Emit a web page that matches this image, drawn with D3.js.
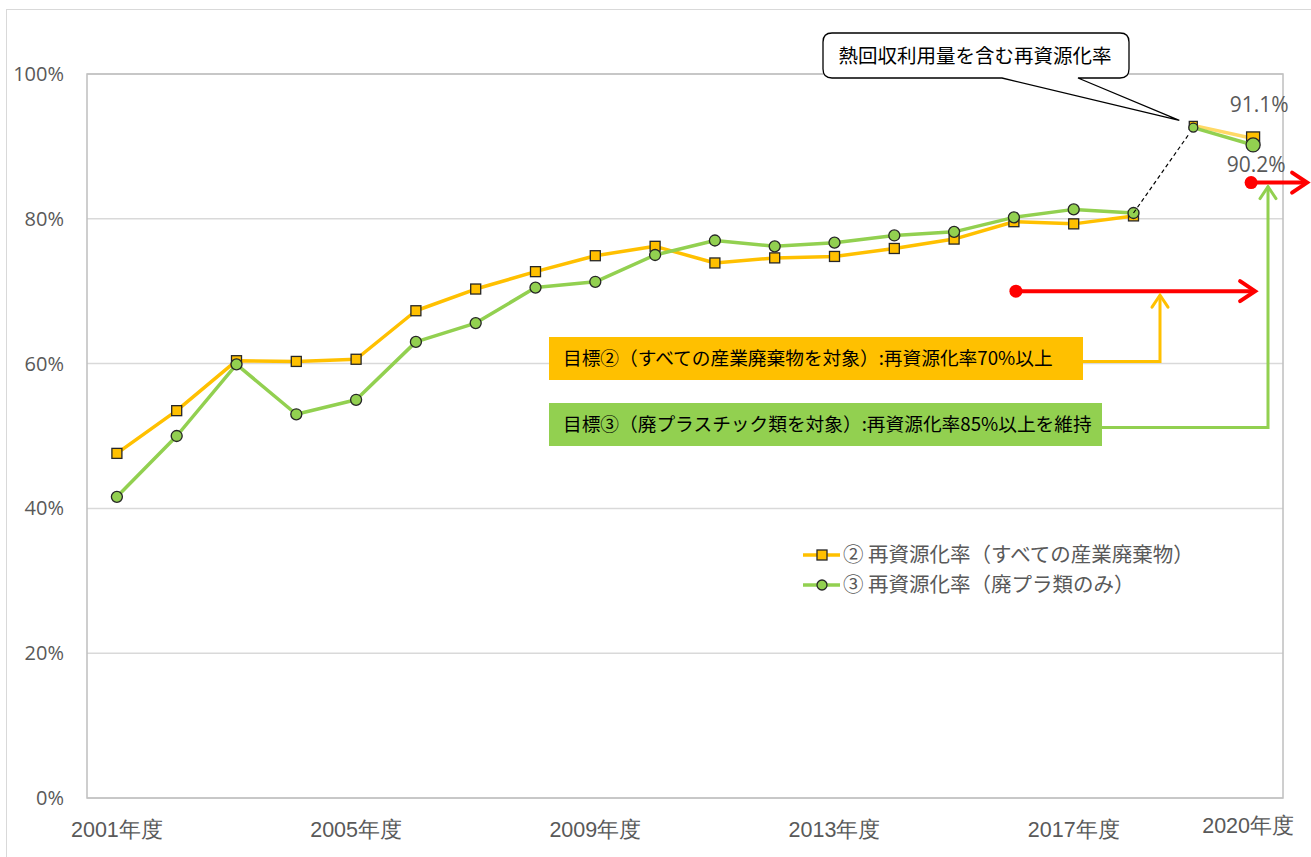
<!DOCTYPE html>
<html>
<head>
<meta charset="utf-8">
<script src="https://cdn.jsdelivr.net/npm/d3@7"></script>
<style>
  body { margin: 0; background: #fff; }
  svg { display: block; font-family: "Noto Sans CJK JP", "Noto Sans", sans-serif; }
</style>
</head>
<body>
<svg id="svg" width="1311" height="857"></svg>
<script>
const width = 1311;
const height = 857;
const textColor = '#595959';
const yellow = '#FFC000';
const green = '#92D050';

const years = [2001, 2002, 2003, 2004, 2005, 2006, 2007, 2008, 2009, 2010,
               2011, 2012, 2013, 2014, 2015, 2016, 2017, 2018, 2019, 2020];
const allWaste = [47.6, 53.5, 60.4, 60.3, 60.6, 67.3, 70.3, 72.7, 74.9, 76.2,
                  73.9, 74.6, 74.8, 75.9, 77.2, 79.6, 79.3, 80.4, 92.9, 91.1];
const plasticWaste = [41.6, 50.0, 59.9, 53.0, 55.0, 63.0, 65.6, 70.5, 71.3, 75.0,
                      77.0, 76.2, 76.7, 77.7, 78.2, 80.2, 81.3, 80.8, 92.6, 90.2];
const xTickYears = [2001, 2005, 2009, 2013, 2017, 2020];
const yTicks = [0, 20, 40, 60, 80, 100];
const seriesNames = ['② 再資源化率（すべての産業廃棄物）', '③ 再資源化率（廃プラ類のみ）'];
const target2 = 70;
const target3 = 85;

const plot = { left: 87, top: 74, right: 1283, bottom: 798 };

const svg = d3.select('#svg');

const xScale = d3.scaleBand().domain(years).range([plot.left, plot.right]);
const xc = d => xScale(d) + xScale.bandwidth() / 2;
const yScale = d3.scaleLinear().domain([0, 100]).range([plot.bottom, plot.top]);

// outer chart border
svg.append('rect')
  .attr('x', 6.5).attr('y', 9.5)
  .attr('width', width).attr('height', height)
  .attr('fill', 'none').attr('stroke', '#D9D9D9');

// grid
svg.append('g').selectAll('line')
  .data(yTicks)
  .enter().append('line')
  .attr('x1', plot.left).attr('x2', plot.right)
  .attr('y1', d => yScale(d)).attr('y2', d => yScale(d))
  .attr('stroke', '#D9D9D9').attr('stroke-width', 1.5);

svg.append('rect')
  .attr('x', plot.left).attr('y', plot.top)
  .attr('width', plot.right - plot.left).attr('height', plot.bottom - plot.top)
  .attr('fill', 'none').attr('stroke', '#BFBFBF').attr('stroke-width', 1.5);

// axes
const yAxis = d3.axisLeft(yScale).tickValues(yTicks).tickSize(0).tickPadding(0)
  .tickFormat(d => d + '%');
const yg = svg.append('g').attr('transform', 'translate(64,0)').call(yAxis);
yg.select('.domain').remove();
yg.selectAll('text').attr('fill', textColor).style('font-size', '20px')
  .style('font-family', '"Open Sans", "Noto Sans", sans-serif');

const xAxis = d3.axisBottom(xScale).tickValues(xTickYears).tickSize(0).tickPadding(0)
  .tickFormat(d => d + '年度');
const xg = svg.append('g').attr('transform', 'translate(0,' + (plot.bottom + 24) + ')').call(xAxis);
xg.select('.domain').remove();
xg.selectAll('text').attr('fill', textColor).style('font-size', '21.5px');
xg.selectAll('.tick').filter(d => d === 2020)
  .attr('transform', 'translate(' + (xc(2020) - 5) + ',-4)');

// series
const ptsA = years.map((y, i) => [xc(y), yScale(allWaste[i])]);
const ptsB = years.map((y, i) => [xc(y), yScale(plasticWaste[i])]);
const line = d3.line();

function drawSeries(pts, color, lastColor, shape) {
  svg.append('path')
    .attr('d', line(pts.slice(0, 18)))
    .attr('fill', 'none').attr('stroke', color).attr('stroke-width', 3.5)
    .attr('stroke-linejoin', 'round');
  svg.append('path')
    .attr('d', line(pts.slice(18)))
    .attr('fill', 'none').attr('stroke', lastColor).attr('stroke-width', 3.5);
  const sizes = pts.map((p, i) => i === 19 ? 13 : (i === 18 ? 8 : 10));
  if (shape === 'square') {
    svg.append('g').selectAll('rect')
      .data(pts)
      .enter().append('rect')
      .attr('x', (d, i) => d[0] - sizes[i] / 2)
      .attr('y', (d, i) => d[1] - sizes[i] / 2)
      .attr('width', (d, i) => sizes[i]).attr('height', (d, i) => sizes[i])
      .attr('fill', color).attr('stroke', '#262626').attr('stroke-width', 1.3);
  } else {
    svg.append('g').selectAll('circle')
      .data(pts)
      .enter().append('circle')
      .attr('cx', d => d[0]).attr('cy', d => d[1])
      .attr('r', (d, i) => sizes[i] / 2 + 0.5)
      .attr('fill', color).attr('stroke', '#262626').attr('stroke-width', 1.3);
  }
}

drawSeries(ptsA, yellow, '#FFD966', 'square');
drawSeries(ptsB, green, green, 'circle');

// dashed link 2018 -> 2019
svg.append('line')
  .attr('x1', ptsB[17][0]).attr('y1', ptsB[17][1])
  .attr('x2', ptsB[18][0] - 4).attr('y2', ptsB[18][1] + 6)
  .attr('stroke', '#000').attr('stroke-width', 1.2).attr('stroke-dasharray', '4,3');

// data labels 2020
svg.append('text')
  .attr('x', xc(2020) + 6).attr('y', yScale(allWaste[19]) - 26)
  .attr('text-anchor', 'middle').attr('fill', textColor).style('font-size', '21px')
  .style('font-family', '"Open Sans", "Noto Sans", sans-serif')
  .text(allWaste[19].toFixed(1) + '%');
svg.append('text')
  .attr('x', xc(2020) + 3).attr('y', yScale(plasticWaste[19]) + 27)
  .attr('text-anchor', 'middle').attr('fill', textColor).style('font-size', '21px')
  .style('font-family', '"Open Sans", "Noto Sans", sans-serif')
  .text(plasticWaste[19].toFixed(1) + '%');

// callout
const cb = { x0: 823, y0: 33, x1: 1129, y1: 78, r: 9 };
const tip = [ptsA[18][0] - 14, ptsA[18][1] - 5];
svg.append('path')
  .attr('d', `M${cb.x0 + cb.r},${cb.y0} H${cb.x1 - cb.r} Q${cb.x1},${cb.y0} ${cb.x1},${cb.y0 + cb.r}
    V${cb.y1 - cb.r} Q${cb.x1},${cb.y1} ${cb.x1 - cb.r},${cb.y1} H1078 L${tip[0]},${tip[1]} L1002,${cb.y1}
    H${cb.x0 + cb.r} Q${cb.x0},${cb.y1} ${cb.x0},${cb.y1 - cb.r} V${cb.y0 + cb.r} Q${cb.x0},${cb.y0} ${cb.x0 + cb.r},${cb.y0} Z`)
  .attr('fill', '#fff').attr('stroke', '#000').attr('stroke-width', 1.3);
svg.append('text')
  .attr('x', 975).attr('y', 63).attr('text-anchor', 'middle')
  .attr('fill', '#000').style('font-size', '19.5px')
  .text('熱回収利用量を含む再資源化率');

// target arrows (red)
function arrowHead(g, x, y, dir, color, w, len, spread) {
  let pts;
  if (dir === 'right') pts = [[x - len, y - spread], [x, y], [x - len, y + spread]];
  else pts = [[x - spread, y + len], [x, y], [x + spread, y + len]];
  g.append('path').attr('d', d3.line()(pts))
    .attr('fill', 'none').attr('stroke', color).attr('stroke-width', w)
    .attr('stroke-linecap', 'round').attr('stroke-linejoin', 'miter');
}

const red = svg.append('g');
const redRows = [
  { x1: xc(2016) + 2, x2: xc(2020) + 2, v: target2 },
  { x1: xc(2020) - 2, x2: xc(2020) + 54, v: target3 }
];
redRows.forEach(r => {
  red.append('line')
    .attr('x1', r.x1).attr('x2', r.x2 - 2)
    .attr('y1', yScale(r.v)).attr('y2', yScale(r.v))
    .attr('stroke', '#FF0000').attr('stroke-width', 4);
  red.append('circle').attr('cx', r.x1).attr('cy', yScale(r.v)).attr('r', 6.5).attr('fill', '#FF0000');
  arrowHead(red, r.x2, yScale(r.v), 'right', '#FF0000', 4, 15, 10);
});

// target boxes
const boxes = [
  { x: 549, y: 337, w: 534, h: 43, color: yellow, text: '目標②（すべての産業廃棄物を対象）:再資源化率70%以上',
    lx: 1160, v: target2 },
  { x: 549, y: 403, w: 553, h: 43, color: green, text: '目標③（廃プラスチック類を対象）:再資源化率85%以上を維持',
    lx: 1268, v: target3 }
];
boxes.forEach(b => {
  const cy = b.y + b.h / 2 + 3;
  const top = yScale(b.v) + 4;
  svg.append('path')
    .attr('d', d3.line()([[b.x + b.w - 4, cy], [b.lx, cy], [b.lx, top]]))
    .attr('fill', 'none').attr('stroke', b.color).attr('stroke-width', 3);
  arrowHead(svg, b.lx, top, 'up', b.color, 3, 12, 8);
  svg.append('rect')
    .attr('x', b.x).attr('y', b.y).attr('width', b.w).attr('height', b.h)
    .attr('fill', b.color);
  svg.append('text')
    .attr('x', b.x + 14).attr('y', b.y + 28)
    .attr('fill', '#000').style('font-size', '18.7px')
    .text(b.text);
});

// legend
const legend = svg.append('g').attr('transform', 'translate(803,555)');
[yellow, green].forEach((c, i) => {
  const row = legend.append('g').attr('transform', 'translate(0,' + i * 30 + ')');
  row.append('line').attr('x1', 0).attr('x2', 37).attr('stroke', c).attr('stroke-width', 3.5);
  if (i === 0) {
    row.append('rect').attr('x', 14).attr('y', -5).attr('width', 10).attr('height', 10)
      .attr('fill', c).attr('stroke', '#262626').attr('stroke-width', 1.3);
  } else {
    row.append('circle').attr('cx', 19).attr('r', 5)
      .attr('fill', c).attr('stroke', '#262626').attr('stroke-width', 1.3);
  }
  row.append('text').attr('x', 40).attr('y', 7)
    .attr('fill', textColor).style('font-size', '20.5px')
    .text(seriesNames[i]);
});
</script>
</body>
</html>
